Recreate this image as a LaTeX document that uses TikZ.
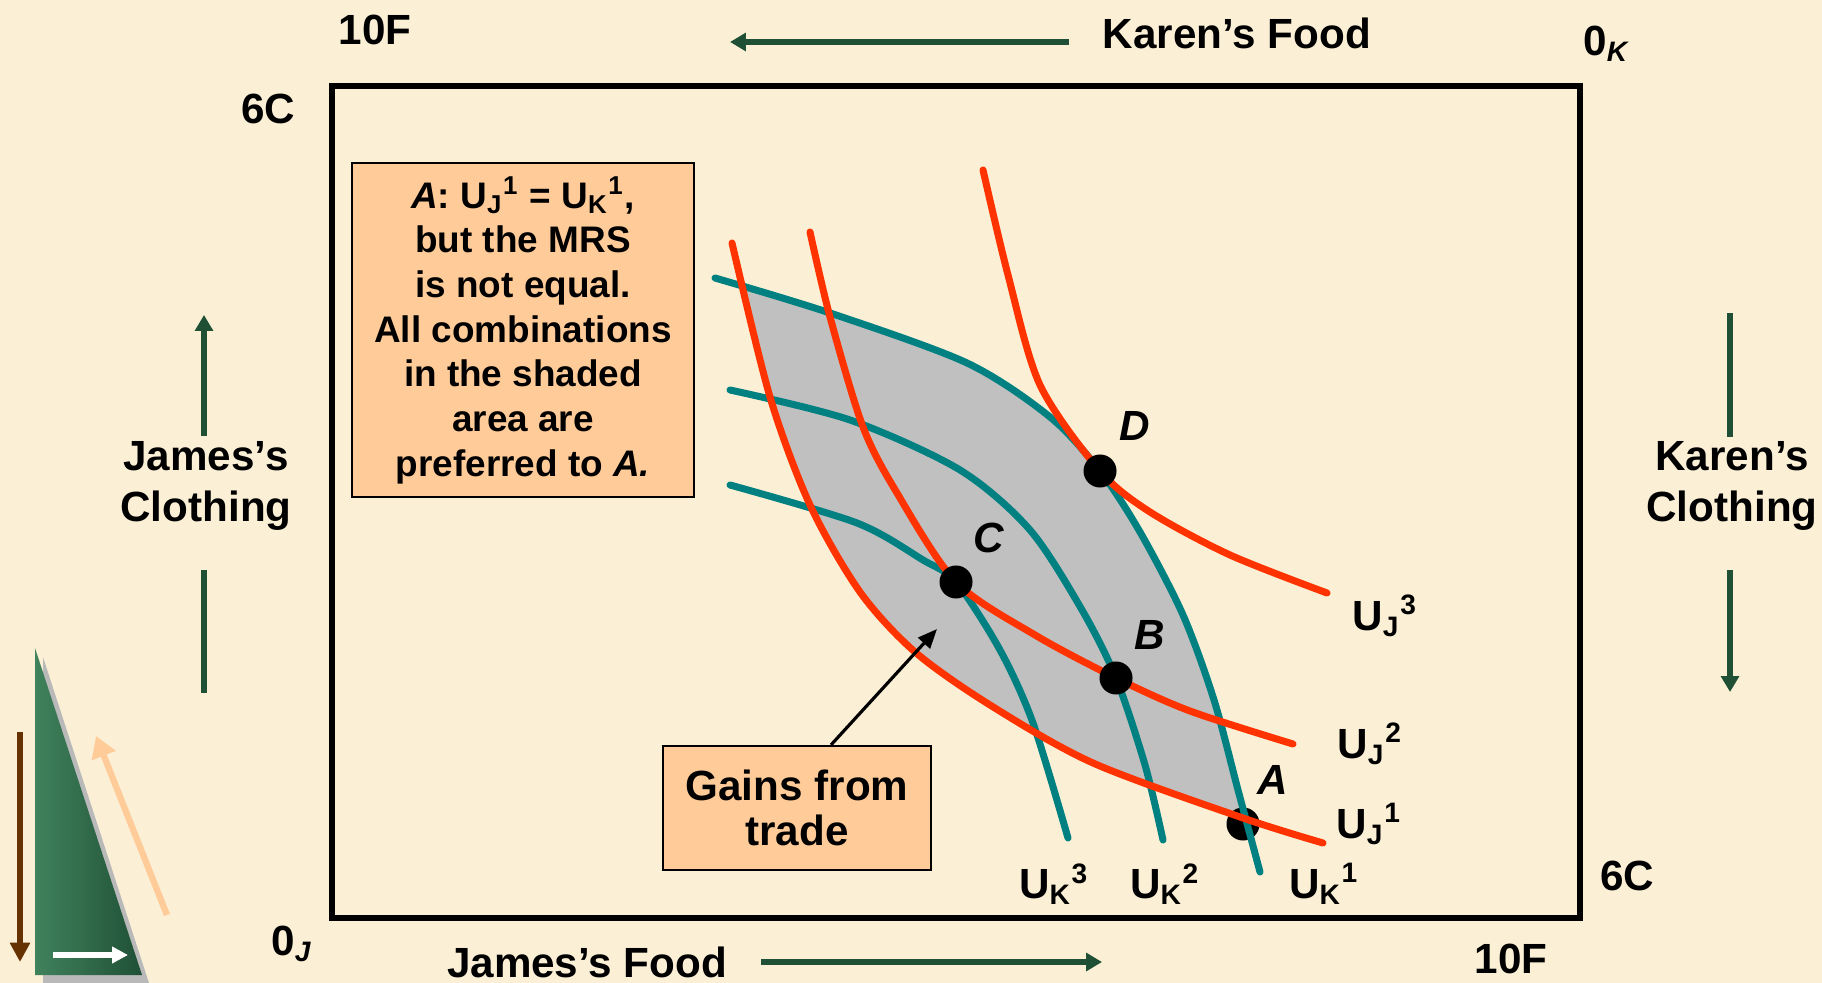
\documentclass[tikz,border=0pt]{standalone}
\usepackage{fontspec}
\setmainfont{Liberation Sans}
\usetikzlibrary{arrows.meta}

\definecolor{parch}{RGB}{251,240,214}
\definecolor{jred}{RGB}{255,51,0}
\definecolor{kteal}{RGB}{0,128,128}
\definecolor{dkgreen}{RGB}{31,80,54}
\definecolor{ltgreen}{RGB}{64,130,92}
\definecolor{peach}{RGB}{255,204,153}
\definecolor{lensgray}{RGB}{192,192,192}
\definecolor{brownarr}{RGB}{102,51,0}

% U with sub- and superscript
\newcommand{\uu}[2]{U\textsubscript{#1}\textsuperscript{#2}}

\begin{document}
\begin{tikzpicture}[
  x=0.01cm, y=-0.01cm,
  font=\bfseries\fontsize{12}{14.4}\selectfont,
  lbl/.style={align=center, inner sep=0pt},
  ptlbl/.style={font=\bfseries\itshape\fontsize{12}{14.4}\selectfont, inner sep=0pt},
  axarr/.style={dkgreen, line width=1.7pt, -{Triangle[length=4.5pt,width=5pt]}},
  axline/.style={dkgreen, line width=1.7pt},
  jcurve/.style={jred, line width=2pt, line cap=round},
  kcurve/.style={kteal, line width=2pt, line cap=round},
  dot/.style={circle, fill=black, minimum size=0.33cm, inner sep=0pt},
  note/.style={draw, line width=0.6pt, fill=peach, align=center, inner sep=0pt},
  ptr/.style={-{Triangle[length=5.5pt,width=4.5pt]}, line width=0.9pt}
]

% -------------------------------------------------
% Canvas
% -------------------------------------------------
\useasboundingbox (0,0) rectangle (1822,983);
\fill[parch] (0,0) rectangle (1822,983);

% -------------------------------------------------
% Corner decoration
% -------------------------------------------------
\fill[gray!55] (43,657) -- (43,983) -- (149,983) -- cycle;
\shade[left color=ltgreen, right color=dkgreen] (35,648) -- (35,975) -- (142,975) -- cycle;
\draw[brownarr, line width=1.5pt, -{Triangle[length=5.5pt,width=5.5pt]}] (20,732) -- (20,962);
\draw[peach, line width=1.8pt, -{Triangle[length=6pt,width=7pt]}] (167,915) -- (96,736);
\draw[white, line width=1.5pt, -{Triangle[length=4.5pt,width=4.5pt]}] (53,955) -- (128,955);

% -------------------------------------------------
% Edgeworth box
% -------------------------------------------------
\draw[line width=1.5pt] (332,86) rectangle (1580,918);

% -------------------------------------------------
% Axis texts
% -------------------------------------------------
\node[lbl] (tenFtop) at (375,30) {10F};
\node[lbl] (kfood) at (1237,33) {Karen’s Food};
\node[lbl] (zeroK) at (1607,44) {0\textsubscript{\textit{K}}};
\node[lbl] (sixCtop) at (268,109) {6C};
\node[lbl] (jcloth) at (206,486) {James’s\\Clothing};
\node[lbl] (kcloth) at (1732,486) {Karen’s\\Clothing};
\node[lbl] (sixCbot) at (1627,876) {6C};
\node[lbl] (zeroJ) at (292,944) {0\textsubscript{\textit{J}}};
\node[lbl] (jfood) at (587,962) {James’s Food};
\node[lbl] (tenFbot) at (1511,959) {10F};

% direction arrows
\draw[axarr] (1069,42) -- (730,42);
\draw[axarr] (761,962) -- (1102,962);
\draw[axarr] (204,436) -- (204,315);
\draw[axline] (204,570) -- (204,693);
\draw[axline] (1730,313) -- (1730,437);
\draw[axarr] (1730,570) -- (1730,692);

% -------------------------------------------------
% Shaded lens between U_K^1 and U_J^1
% -------------------------------------------------
\fill[lensgray] plot[smooth] coordinates {(743,286) (830,313) (967,363) (1050,417) (1100,471)
  (1140,532) (1183,615) (1214,700) (1241,816)}
  -- plot[smooth] coordinates {(1241,816) (1093,763) (990,705) (915,652) (860,592) (810,505)
  (770,397) (743,286)} -- cycle;

% point A sits under the curves
\node[dot] (A) at (1243,824) {};

% -------------------------------------------------
% Karen's indifference curves
% -------------------------------------------------
\draw[kcurve] plot[smooth] coordinates {(715,278) (830,313) (967,363) (1050,417) (1100,471)
  (1140,532) (1183,615) (1214,700) (1238,790) (1260,872)};
\draw[kcurve] plot[smooth] coordinates {(730,390) (850,420) (960,470) (1030,530) (1082,610)
  (1116,678) (1145,765) (1163,840)};
\draw[kcurve] plot[smooth] coordinates {(730,485) (857,523) (923,560) (956,582) (1000,650)
  (1033,723) (1068,838)};

% -------------------------------------------------
% James's indifference curves
% -------------------------------------------------
\draw[jcurve] plot[smooth] coordinates {(732,243) (770,397) (810,505) (860,592) (915,652)
  (990,705) (1093,763) (1243,818) (1323,843)};
\draw[jcurve] plot[smooth] coordinates {(810,232) (830,317) (863,427) (897,493) (956,582)
  (1035,635) (1116,678) (1190,711) (1293,744)};
\draw[jcurve] plot[smooth] coordinates {(983,170) (1008,275) (1040,385) (1100,471) (1150,512)
  (1230,555) (1327,593)};

% -------------------------------------------------
% Points and labels
% -------------------------------------------------
\node[dot] (D) at (1100,471) {};
\node[dot] (C) at (956,582) {};
\node[dot] (B) at (1116,678) {};

\node[ptlbl] (Dl) at (1135,426) {D};
\node[ptlbl] (Cl) at (989,538) {C};
\node[ptlbl] (Bl) at (1150,635) {B};
\node[ptlbl] (Al) at (1273,780) {A};

\node[lbl] (uj3) at (1385,616) {\uu{J}{3}};
\node[lbl] (uj2) at (1370,744) {\uu{J}{2}};
\node[lbl] (uj1) at (1369,824) {\uu{J}{1}};
\node[lbl] (uk3) at (1054,884) {\uu{K}{3}};
\node[lbl] (uk2) at (1165,884) {\uu{K}{2}};
\node[lbl] (uk1) at (1324,884) {\uu{K}{1}};

% -------------------------------------------------
% Notes
% -------------------------------------------------
\node[note, minimum width=3.41cm, minimum height=3.34cm,
  font=\bfseries\fontsize{10.5}{12.7}\selectfont] (info) at (523,330)
  {\textit{A}: \uu{J}{1} = \uu{K}{1},\\ but the MRS\\ is not equal.\\ All combinations\\
   in the shaded\\ area are\\ preferred to \textit{A.}};

\node[note, minimum width=2.67cm, minimum height=1.24cm,
  font=\bfseries\fontsize{12}{12.8}\selectfont] (gains) at (797,808) {Gains from\\trade};

\coordinate (gtip) at (937,629);
\draw[ptr] (gains.north) ++(34,0) -- (gtip);

\end{tikzpicture}
\end{document}
